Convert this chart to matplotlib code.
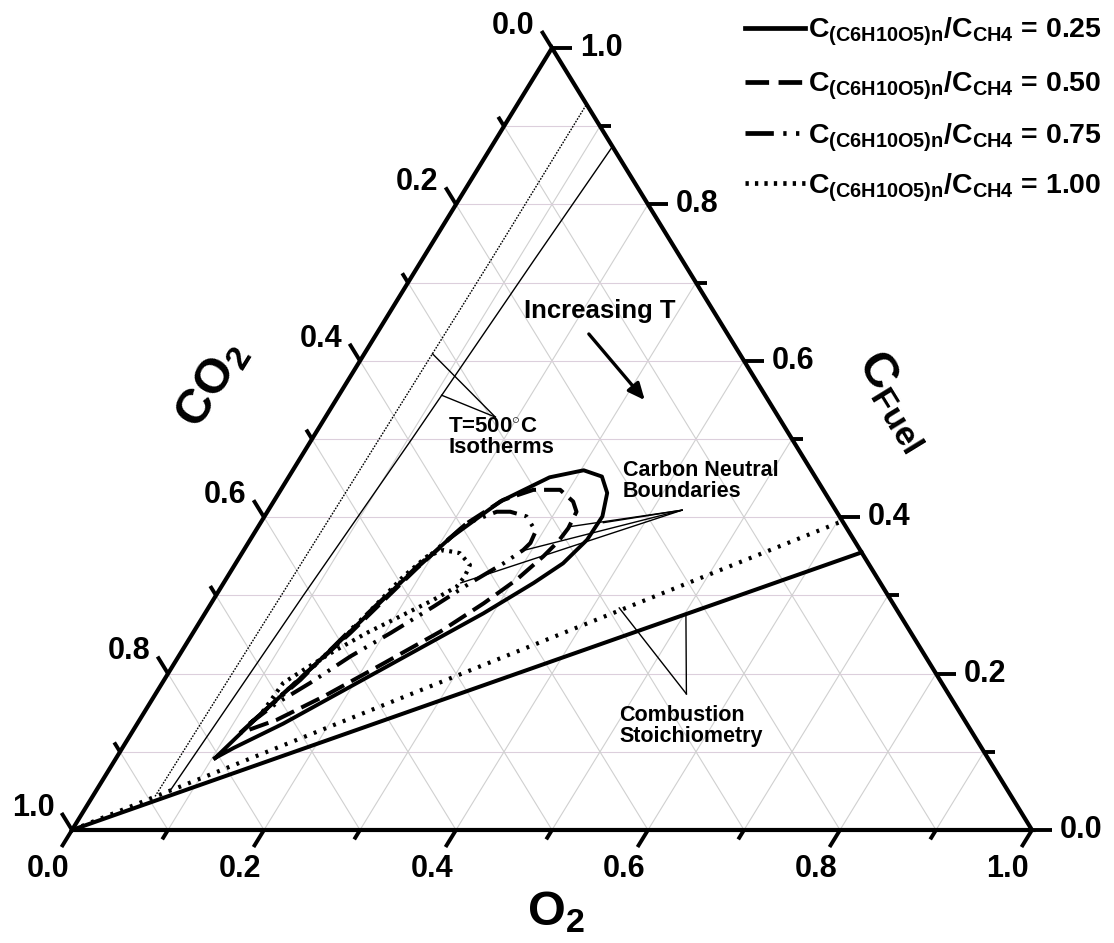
import numpy as np
import matplotlib.pyplot as plt

plt.rcParams['font.family'] = ['Liberation Sans', 'DejaVu Sans']
plt.rcParams['font.weight'] = 'bold'
plt.rcParams['mathtext.fontset'] = 'custom'
plt.rcParams['mathtext.rm'] = 'Liberation Sans:bold'
plt.rcParams['mathtext.it'] = 'Liberation Sans:bold'
plt.rcParams['mathtext.bf'] = 'Liberation Sans:bold'
plt.rcParams['mathtext.sf'] = 'Liberation Sans:bold'

# ---- data: mole fractions (O2, C_fuel), CO2 = 1 - O2 - C_fuel ----
ratio_labels = ['0.25', '0.50', '0.75', '1.00']

loop025_o2 = [0.103, 0.122, 0.141, 0.163, 0.184, 0.207, 0.236, 0.272, 0.303, 0.326, 0.342,
              0.352, 0.351, 0.341, 0.323, 0.290, 0.244, 0.198, 0.152, 0.116, 0.103]
loop025_fuel = [0.092, 0.147, 0.194, 0.254, 0.316, 0.373, 0.420, 0.451, 0.460, 0.452, 0.431,
                0.401, 0.371, 0.341, 0.316, 0.277, 0.230, 0.183, 0.136, 0.105, 0.092]

loop050_o2 = [0.113, 0.133, 0.164, 0.192, 0.215, 0.238, 0.263, 0.291, 0.312, 0.322, 0.324,
              0.322, 0.316, 0.303, 0.284, 0.257, 0.218, 0.177, 0.143, 0.113]
loop050_fuel = [0.124, 0.175, 0.252, 0.335, 0.392, 0.422, 0.435, 0.435, 0.420, 0.407, 0.386,
                0.369, 0.350, 0.320, 0.290, 0.254, 0.213, 0.171, 0.141, 0.124]

loop075_o2 = [0.117, 0.142, 0.162, 0.191, 0.215, 0.239, 0.253, 0.273, 0.292, 0.294, 0.291,
              0.279, 0.257, 0.234, 0.206, 0.179, 0.154, 0.132, 0.117]
loop075_fuel = [0.136, 0.192, 0.256, 0.337, 0.392, 0.407, 0.407, 0.401, 0.382, 0.367, 0.358,
                0.341, 0.316, 0.286, 0.252, 0.222, 0.188, 0.162, 0.136]

loop100_o2 = [0.123, 0.141, 0.163, 0.183, 0.195, 0.208, 0.227, 0.245, 0.247, 0.245, 0.229,
              0.205, 0.181, 0.158, 0.139, 0.126, 0.123]
loop100_fuel = [0.151, 0.194, 0.254, 0.324, 0.350, 0.358, 0.354, 0.339, 0.324, 0.311, 0.294,
                0.273, 0.252, 0.228, 0.205, 0.188, 0.151]

# T = 500 C isotherms
iso_dot_o2 = [0.065, 0.068, 0.070, 0.072, 0.072]
iso_dot_fuel = [0.043, 0.300, 0.500, 0.730, 0.928]
iso_sol_o2 = [0.077, 0.091, 0.104, 0.117, 0.126]
iso_sol_fuel = [0.049, 0.300, 0.500, 0.730, 0.874]

# combustion stoichiometry lines
stoich_sol_o2 = [0.0, 0.645]
stoich_sol_fuel = [0.0, 0.355]
stoich_dot_o2 = [0.0, 0.605]
stoich_dot_fuel = [0.0, 0.395]

# leader lines of the annotations (O2, C_fuel)
cn_hub = (0.431, 0.409)
cn_tips = [(0.357, 0.393), (0.325, 0.388), (0.293, 0.358), (0.247, 0.316)]
cs_hub = (0.553, 0.174)
cs_tips = [(0.428, 0.284), (0.502, 0.275)]
iso_hub = (0.177, 0.528)
iso_tips = [(0.071, 0.609), (0.107, 0.556)]
arrow_from = (0.218, 0.637)
arrow_to = (0.325, 0.547)

tick_vals = np.round(np.arange(0, 1.01, 0.1), 1)

# ---- layout (pixels) ----
FW, FH = 1114, 943
X0, Y0, W, H = 72, 830, 960, 782


def cart(o2, fuel):
    o2 = np.asarray(o2, float)
    fuel = np.asarray(fuel, float)
    return o2 + fuel / 2, fuel


def P(x, y):
    return (x - X0) / W, (Y0 - y) / H


fig = plt.figure(figsize=(FW / 100, FH / 100), dpi=100)
ax = fig.add_axes([X0 / FW, (FH - Y0) / FH, W / FW, H / FH])
ax.set_xlim(0, 1)
ax.set_ylim(0, 1)
ax.axis('off')

# grid
for t in tick_vals[1:-1]:
    ax.plot([t / 2, 1 - t / 2], [t, t], color='#dccfdc', lw=0.8, zorder=1)
    ax.plot([t, t + (1 - t) / 2], [0, 1 - t], color='#d0d0d0', lw=0.8, zorder=1)
    ax.plot([1 - t, (1 - t) / 2], [0, 1 - t], color='#d0d0d0', lw=0.8, zorder=1)

# frame
ax.plot([0, 1, 0.5, 0], [0, 0, 1, 0], color='k', lw=3.0, solid_joinstyle='miter',
        clip_on=False, zorder=5)

# ticks + labels
ux, uy = 480 / np.hypot(480, 782), 782 / np.hypot(480, 782)
for v in tick_vals:
    major = int(round(v * 10)) % 2 == 0
    L = 20 if major else 11
    lab = '%.1f' % v
    # bottom (O2)
    bx, by = v, 0.0
    ax.plot([bx, bx - ux * L / W], [by, by - uy * L / H], color='k', lw=2.8,
            solid_capstyle='butt', clip_on=False, zorder=5)
    if major:
        ax.text(bx - ux * 46 / W, by - uy * 46 / H, lab, fontsize=22, ha='center', va='center')
    # right (C fuel)
    rx, ry = 1 - v / 2, v
    ax.plot([rx, rx + L / W], [ry, ry], color='k', lw=2.8, solid_capstyle='butt',
            clip_on=False, zorder=5)
    if major:
        ax.text(rx + 28 / W, ry, lab, fontsize=22, ha='left', va='center')
    # left (CO2)
    lx, ly = (1 - v) / 2, 1 - v
    ax.plot([lx, lx - ux * L / W], [ly, ly + uy * L / H], color='k', lw=2.8,
            solid_capstyle='butt', clip_on=False, zorder=5)
    if major:
        ax.text(lx - (ux * 26 + 4) / W, ly + uy * 26 / H, lab, fontsize=22,
                ha='right', va='center')

ang = np.degrees(np.arctan2(782, 480))
tx, ty = P(212, 385)
ax.text(tx, ty, 'CO$_2$', fontsize=35, rotation=ang, rotation_mode='anchor',
        ha='center', va='center')
tx, ty = P(895, 400)
ax.text(tx, ty, 'C$_{Fuel}$', fontsize=35, rotation=-ang, rotation_mode='anchor',
        ha='center', va='center')
tx, ty = P(556, 912)
ax.text(tx, ty, 'O$_2$', fontsize=35, ha='center', va='center')

# curves
styles = [dict(ls='-', lw=2.8),
          dict(ls=(0, (5.0, 2.0)), lw=2.9),
          dict(ls=(0, (6.0, 2.0, 0.7, 2.0, 0.7, 2.0)), lw=2.9),
          dict(ls=(0, (0.7, 1.3)), lw=3.0)]
loops = [(loop025_o2, loop025_fuel), (loop050_o2, loop050_fuel),
         (loop075_o2, loop075_fuel), (loop100_o2, loop100_fuel)]
for (o2, fu), st in zip(loops, styles):
    ax.plot(*cart(o2, fu), color='k', zorder=4, **st)

ax.plot(*cart(stoich_sol_o2, stoich_sol_fuel), color='k', lw=2.9, zorder=4)
ax.plot(*cart(stoich_dot_o2, stoich_dot_fuel), color='k', lw=3.0, ls=(0, (0.7, 1.8)), zorder=4)
ax.plot(*cart(iso_sol_o2, iso_sol_fuel), color='k', lw=1.0, zorder=3)
ax.plot(*cart(iso_dot_o2, iso_dot_fuel), color='k', lw=1.0, ls=(0, (1.2, 1.0)), zorder=3)

# annotations
for hub, tips in [(cn_hub, cn_tips), (cs_hub, cs_tips), (iso_hub, iso_tips)]:
    for tip in tips:
        xs, ys = cart([hub[0], tip[0]], [hub[1], tip[1]])
        ax.plot(xs, ys, color='k', lw=1.0, zorder=4)

ax.annotate('', xy=cart(*arrow_to), xytext=cart(*arrow_from),
            arrowprops=dict(arrowstyle='-|>,head_length=1.0,head_width=0.45', color='k', lw=2.4))

tx, ty = P(600, 311)
ax.text(tx, ty, 'Increasing T', fontsize=18.5, ha='center', va='center')
tx, ty = P(448, 417)
ax.text(tx, ty, 'T=500$^{\\circ}$C\nIsotherms', fontsize=16, ha='left', va='top', linespacing=0.95)
tx, ty = P(623, 460)
ax.text(tx, ty, 'Carbon Neutral\nBoundaries', fontsize=15.5, ha='left', va='top', linespacing=1.0)
tx, ty = P(619, 705)
ax.text(tx, ty, 'Combustion\nStoichiometry', fontsize=15.5, ha='left', va='top', linespacing=1.0)

# legend
rows = [28, 82, 133, 183]
for lab, st, ry in zip(ratio_labels, styles, rows):
    x1, y1 = P(745, ry)
    x2, _ = P(805, ry)
    ax.plot([x1, x2], [y1, y1], color='k', clip_on=False, zorder=5,
            **dict(st, lw=3.4))
    tx, ty = P(808, ry + 10)
    ax.text(tx, ty, '$C_{(C6H10O5)n}/C_{CH4}$ = ' + lab, fontsize=20.5,
            ha='left', va='baseline')

fig.savefig('out.png', dpi=100)
